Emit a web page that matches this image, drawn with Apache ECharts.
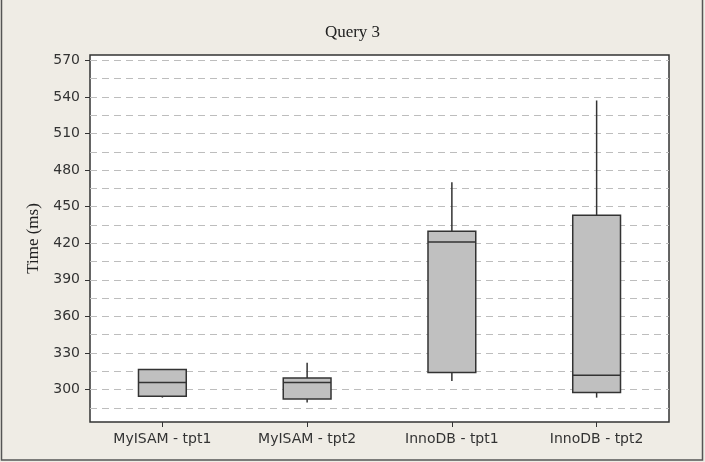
<!DOCTYPE html>
<html>
<head>
<meta charset="utf-8">
<style>
  html, body { margin: 0; padding: 0; background: #efece5; }
  #main { width: 705px; height: 462px; }
</style>
<script src="https://cdn.jsdelivr.net/npm/echarts@6/dist/echarts.min.js"></script>
</head>
<body>
<div id="main"></div>
<script>
// categories along x
var categories = ['MyISAM - tpt1', 'MyISAM - tpt2', 'InnoDB - tpt1', 'InnoDB - tpt2'];
// box stats per category: [min, q1, median, q3, max]
var lowWhisker = [293.4, 289.3, 307.1, 293.4];
var q1Values = [294.5, 292.3, 314.0, 297.5];
var medians = [305.8, 305.8, 421.0, 311.8];
var q3Values = [316.4, 309.5, 429.8, 443.0];
var highWhisker = [316.4, 321.9, 470.1, 537.1];
// y tick labels and dashed grid lines
var yLabels = [300, 330, 360, 390, 420, 450, 480, 510, 540, 570];
var gridValues = [285, 300, 315, 330, 345, 360, 375, 390, 405, 420, 435, 450, 465, 480, 495, 510, 525, 540, 555, 570];

var yMin = 273.4, yMax = 574.4;

var boxData = categories.map(function (c, i) {
  return [i, lowWhisker[i], q1Values[i], medians[i], q3Values[i], highWhisker[i]];
});

// box without whisker caps, like the original tool draws it
function renderBox(params, api) {
  var x = api.value(0);
  var pMin = api.coord([x, api.value(1)]);
  var pQ1 = api.coord([x, api.value(2)]);
  var pMed = api.coord([x, api.value(3)]);
  var pQ3 = api.coord([x, api.value(4)]);
  var pMax = api.coord([x, api.value(5)]);
  var half = api.size([1, 0])[0] * 0.165;
  var cx = pMed[0];
  var lineStyle = { stroke: '#333', lineWidth: 1.5 };
  return {
    type: 'group',
    children: [
      { type: 'line', shape: { x1: cx, y1: pMax[1], x2: cx, y2: pQ3[1] }, style: lineStyle },
      { type: 'line', shape: { x1: cx, y1: pQ1[1], x2: cx, y2: pMin[1] }, style: lineStyle },
      { type: 'rect', shape: { x: cx - half, y: pQ3[1], width: half * 2, height: pQ1[1] - pQ3[1] },
        style: { fill: '#c0c0c0', stroke: '#333', lineWidth: 1.5 } },
      { type: 'line', shape: { x1: cx - half, y1: pMed[1], x2: cx + half, y2: pMed[1] }, style: lineStyle }
    ]
  };
}

var chart = echarts.init(document.getElementById('main'));
var option = {
  backgroundColor: '#efece5',
  animation: false,
  title: {
    text: 'Query 3',
    left: 'center',
    top: 19,
    textStyle: { fontFamily: 'Liberation Serif', fontWeight: 'normal', fontSize: 17, color: '#222' }
  },
  graphic: [{
    type: 'rect',
    shape: { x: 1.5, y: -2, width: 701, height: 462 },
    style: { fill: 'none', stroke: '#555', lineWidth: 1.5 },
    silent: true
  }],
  grid: {
    left: 90, right: 36, top: 55, bottom: 40,
    show: true, backgroundColor: '#fff', borderColor: '#333', borderWidth: 1.5
  },
  xAxis: {
    type: 'category',
    data: categories,
    axisLine: { show: false },
    axisTick: { show: true, alignWithLabel: true, length: 5, lineStyle: { color: '#333' } },
    axisLabel: { fontFamily: 'DejaVu Sans', fontSize: 14, color: '#333', margin: 10 },
    splitLine: { show: false }
  },
  yAxis: [{
    type: 'value',
    min: yMin, max: yMax,
    name: 'Time (ms)',
    nameLocation: 'middle',
    nameGap: 48,
    nameTextStyle: { fontFamily: 'Liberation Serif', fontSize: 17, color: '#222' },
    axisLine: { show: false },
    axisTick: { show: true, length: 5, customValues: yLabels, lineStyle: { color: '#333' } },
    axisLabel: { customValues: yLabels, fontFamily: 'DejaVu Sans', fontSize: 14, color: '#333', margin: 10 },
    splitLine: { show: false }
  }, {
    type: 'value',
    position: 'left',
    min: yMin, max: yMax,
    axisLine: { show: false },
    axisTick: { show: false, customValues: gridValues },
    axisLabel: { show: false, customValues: gridValues },
    splitLine: { show: true, lineStyle: { color: '#bdbdbd', type: [7, 5], width: 1 } }
  }],
  series: [{
    type: 'custom',
    renderItem: renderBox,
    encode: { x: 0, y: [1, 2, 3, 4, 5] },
    data: boxData,
    z: 5
  }]
};
chart.setOption(option);
</script>
</body>
</html>
